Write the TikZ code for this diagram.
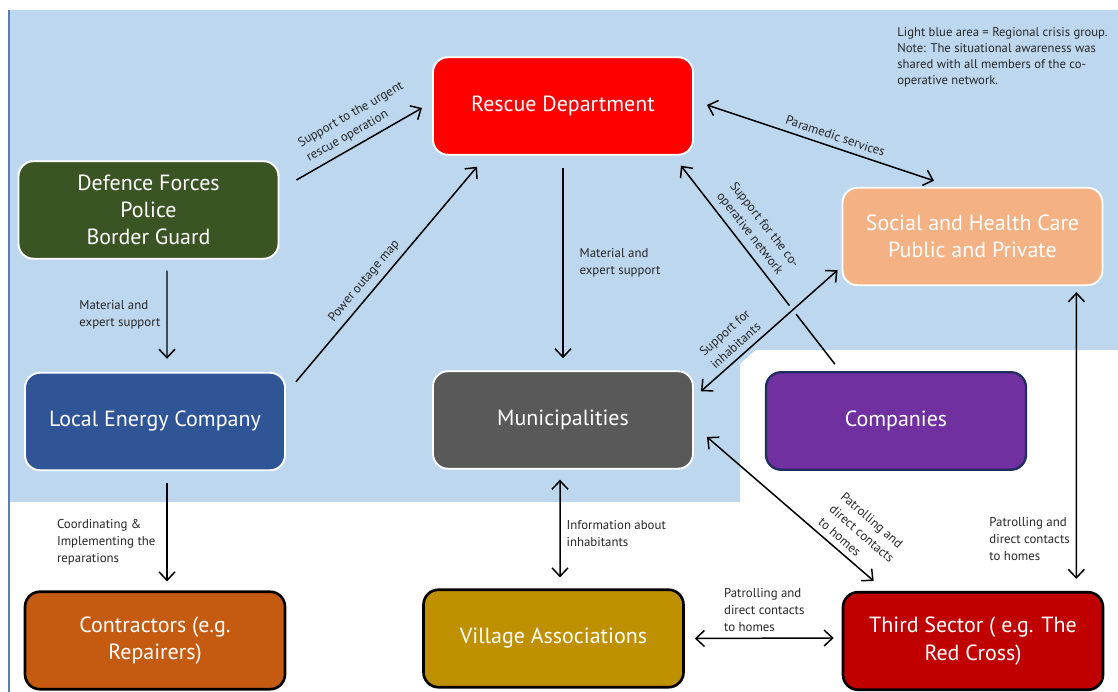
\documentclass[tikz,border=0pt]{standalone}
\usepackage{fontspec}
\setmainfont{PT Sans}
\usepackage{tikz}
\usetikzlibrary{arrows.meta}

\definecolor{crisisblue}{HTML}{BDD7EE}
\definecolor{slideedge}{HTML}{5B7DB1}
\definecolor{defencegreen}{HTML}{3A5424}
\definecolor{rescuered}{HTML}{FF0000}
\definecolor{carepeach}{HTML}{F4B183}
\definecolor{energyblue}{HTML}{2F5597}
\definecolor{munigrey}{HTML}{595959}
\definecolor{companypurple}{HTML}{7030A0}
\definecolor{companyrim}{HTML}{1F2D5F}
\definecolor{contractorbrown}{HTML}{C55A11}
\definecolor{villagegold}{HTML}{BF9000}
\definecolor{thirdred}{HTML}{C00000}

\begin{document}
\begin{tikzpicture}[
  >={Straight Barb[length=1.7mm,width=3.2mm]},
  org/.style={rectangle, rounded corners=0.3cm, minimum width=5.2cm, minimum height=1.95cm, align=center, text=white, font=\fontsize{12.5}{15.5}\selectfont},
  inside/.style={org, draw=white, line width=1.1pt},
  outside/.style={org, draw=black, line width=1.5pt},
  flow/.style={->, line width=0.85pt},
  twoway/.style={<->, line width=0.85pt},
  lbl/.style={font=\fontsize{7.3}{9.6}\selectfont, align=left, text=black!85}
]
\useasboundingbox (0,0) rectangle (22.36,13.84);

% Regional crisis group area
\fill[crisisblue] (0.2,13.64) -- (22.36,13.64) -- (22.36,6.84) -- (14.8,6.84) -- (14.8,3.8) -- (0.2,3.8) -- cycle;
\draw[slideedge, line width=0.6pt] (0.18,13.64) -- (0.18,0);

\node[lbl, anchor=north west, inner sep=0pt, font=\fontsize{7.2}{9.1}\selectfont] (legend) at (17.94,13.3) {Light blue area = Regional crisis group.\\Note: The situational awareness was\\shared with all members of the co-\\operative network.};

% Organisations
\node[inside, fill=rescuered] (rescue) at (11.26,11.72) {Rescue Department};
\node[inside, fill=defencegreen] (defence) at (2.97,9.64) {Defence Forces\\Police\\Border Guard};
\node[inside, fill=carepeach] (care) at (19.45,9.11) {Social and Health Care\\Public and Private};
\node[inside, fill=energyblue] (energy) at (3.10,5.41) {Local Energy Company};
\node[inside, fill=munigrey] (muni) at (11.26,5.44) {Municipalities};
\node[org, draw=companyrim, line width=1.3pt, fill=companypurple] (companies) at (17.92,5.42) {Companies};
\node[outside, fill=contractorbrown] (contractors) at (3.10,1.03) {Contractors (e.g.\\Repairers)};
\node[outside, fill=villagegold] (village) at (11.07,1.07) {Village Associations};
\node[outside, fill=thirdred] (third) at (19.46,1.02) {Third Sector ( e.g. The\\Red Cross)};

% Links towards the rescue department
\draw[flow] ([xshift=0.34cm,yshift=0.6cm]defence.east) -- ([xshift=-0.2cm,yshift=-0.04cm]rescue.west)
  node[lbl, pos=0.55, sloped, above] {Support to the urgent\\rescue operation};
\draw[flow] ([xshift=0.2cm,yshift=-0.2cm]energy.north east) -- ([xshift=0.9cm,yshift=-0.22cm]rescue.south west)
  node[lbl, pos=0.43, sloped, above] {Power outage map};
\draw[twoway] ([xshift=0.26cm,yshift=0.02cm]rescue.east) -- ([xshift=-0.77cm,yshift=0.12cm]care.north)
  node[lbl, pos=0.55, sloped, above] {Paramedic services};
\draw[flow] ([xshift=1.4cm,yshift=0.14cm]companies.north west) -- ([xshift=-0.26cm,yshift=-0.2cm]rescue.south east)
  node[lbl, pos=0.61, sloped, above] {Support for the co-\\operative network};

% Vertical links
\draw[flow] ([xshift=0.37cm,yshift=-0.22cm]defence.south) -- ([xshift=0.24cm,yshift=0.26cm]energy.north)
  node[lbl, midway, left] {Material and\\expert support};
\draw[flow] ([yshift=-0.24cm]rescue.south) -- ([yshift=0.24cm]muni.north)
  node[lbl, midway, right, xshift=0.2cm] {Material and\\expert support};
\draw[flow] ([xshift=0.24cm,yshift=-0.24cm]energy.south) -- ([xshift=0.24cm,yshift=0.18cm]contractors.north)
  node[lbl, pos=0.6, left, xshift=-0.1cm] {Coordinating \&\\Implementing the\\reparations};
\draw[twoway] ([xshift=-0.06cm,yshift=-0.2cm]muni.south) -- ([xshift=0.13cm,yshift=0.22cm]village.north)
  node[lbl, pos=0.55, right] {Information about\\inhabitants};
\draw[twoway] ([xshift=-0.54cm,yshift=-0.12cm]care.south east) -- ([xshift=-0.56cm,yshift=0.24cm]third.north east)
  node[lbl, pos=0.86, left] {Patrolling and\\direct contacts\\to homes};

% Links around the municipalities
\draw[twoway, preaction={draw=crisisblue, line width=6pt, -}] ([xshift=0.14cm,yshift=-0.42cm]muni.north east) -- ([xshift=-0.08cm,yshift=0.32cm]care.south west)
  node[lbl, pos=0.31, sloped, above] {Support for\\inhabitants};
\draw[twoway] ([xshift=0.26cm,yshift=-0.34cm]muni.east) -- ([xshift=0.64cm,yshift=0.2cm]third.north west)
  node[lbl, pos=0.82, sloped, above] {Patrolling and\\direct contacts\\to homes};
\draw[twoway] ([xshift=0.2cm]village.east) -- ([xshift=-0.16cm,yshift=0.06cm]third.west)
  node[lbl, midway, above] {Patrolling and\\direct contacts\\to homes};

\end{tikzpicture}
\end{document}
